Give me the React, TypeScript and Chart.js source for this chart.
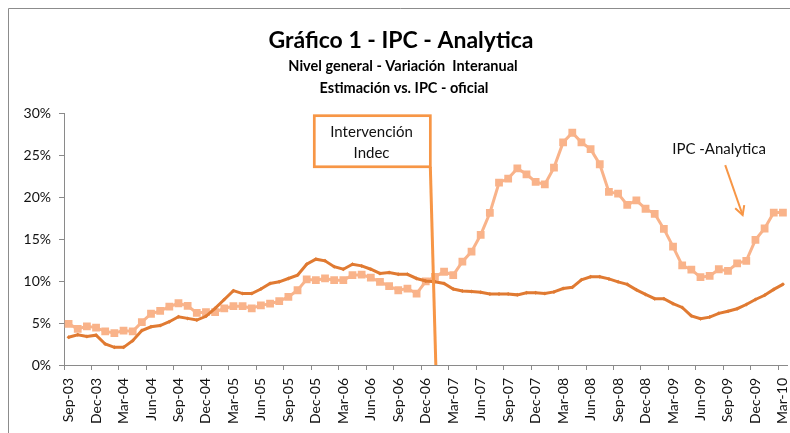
import { useEffect, useRef } from "react";
import { Chart, registerables } from "chart.js";

Chart.register(...registerables);

const FONT = 'Lato, "Liberation Sans", sans-serif';
const ORANGE = "#F79646";
const DARK = "#E07A32";
const LIGHT = "#F9B38A";
const AXIS = "#8a8a8a";

const months = [
  "Sep-03", "Oct-03", "Nov-03", "Dec-03",
  "Jan-04", "Feb-04", "Mar-04", "Apr-04", "May-04", "Jun-04", "Jul-04", "Aug-04", "Sep-04", "Oct-04", "Nov-04", "Dec-04",
  "Jan-05", "Feb-05", "Mar-05", "Apr-05", "May-05", "Jun-05", "Jul-05", "Aug-05", "Sep-05", "Oct-05", "Nov-05", "Dec-05",
  "Jan-06", "Feb-06", "Mar-06", "Apr-06", "May-06", "Jun-06", "Jul-06", "Aug-06", "Sep-06", "Oct-06", "Nov-06", "Dec-06",
  "Jan-07", "Feb-07", "Mar-07", "Apr-07", "May-07", "Jun-07", "Jul-07", "Aug-07", "Sep-07", "Oct-07", "Nov-07", "Dec-07",
  "Jan-08", "Feb-08", "Mar-08", "Apr-08", "May-08", "Jun-08", "Jul-08", "Aug-08", "Sep-08", "Oct-08", "Nov-08", "Dec-08",
  "Jan-09", "Feb-09", "Mar-09", "Apr-09", "May-09", "Jun-09", "Jul-09", "Aug-09", "Sep-09", "Oct-09", "Nov-09", "Dec-09",
  "Jan-10", "Feb-10", "Mar-10",
];

// IPC oficial (dark orange line), % interanual
const ipcOficial = [
  3.3, 3.6, 3.4, 3.55,
  2.5, 2.1, 2.1, 2.9, 4.1, 4.55, 4.7, 5.15, 5.75, 5.55, 5.35, 5.8,
  6.75, 7.8, 8.85, 8.5, 8.5, 9.05, 9.7, 9.9, 10.3, 10.7, 12.0, 12.6,
  12.4, 11.7, 11.4, 12.0, 11.8, 11.4, 10.9, 11.0, 10.8, 10.8, 10.3, 10.0,
  9.9, 9.7, 9.05, 8.8, 8.75, 8.65, 8.45, 8.45, 8.45, 8.35, 8.6, 8.6,
  8.5, 8.7, 9.1, 9.25, 10.15, 10.5, 10.5, 10.25, 9.9, 9.6, 8.95, 8.4,
  7.9, 7.9, 7.3, 6.85, 5.85, 5.5, 5.7, 6.15, 6.4, 6.7, 7.2, 7.8,
  8.3, 9.0, 9.6,
];

// IPC Analytica (light salmon line with squares), % interanual
const ipcAnalytica = [
  4.9, 4.3, 4.6, 4.45,
  4.0, 3.8, 4.1, 4.0, 5.1, 6.1, 6.45, 6.95, 7.35, 7.05, 6.2, 6.3,
  6.3, 6.75, 7.0, 7.0, 6.75, 7.1, 7.3, 7.6, 8.1, 8.9, 10.2, 10.1,
  10.3, 10.1, 10.1, 10.7, 10.75, 10.4, 9.9, 9.4, 8.9, 9.1, 8.5, 9.95,
  10.5, 11.1, 10.7, 12.3, 13.5, 15.5, 18.1, 21.7, 22.2, 23.4, 22.7, 21.8,
  21.5, 23.5, 26.5, 27.65, 26.5, 25.7, 23.9, 20.6, 20.4, 19.05, 19.6, 18.6,
  18.0, 16.2, 14.1, 11.85, 11.35, 10.45, 10.6, 11.4, 11.2, 12.1, 12.4, 14.9,
  16.25, 18.15, 18.15,
];

const yTicks = [0, 5, 10, 15, 20, 25, 30];

const titleText = "Gráfico 1 - IPC - Analytica";
const subtitleLines = ["Nivel general - Variación  Interanual", "Estimación vs. IPC - oficial"];
const boxLines = ["Intervención", "Indec"];
const seriesLabel = "IPC -Analytica";

const CANVAS_W = 793;
const CANVAS_H = 433;

export default function App() {
  const ref = useRef<HTMLCanvasElement>(null);

  useEffect(() => {
    const canvas = ref.current!;

    const overlay = {
      id: "overlay",
      beforeDraw(chart: any) {
        const ctx = chart.ctx;
        ctx.save();
        ctx.fillStyle = "#ffffff";
        ctx.fillRect(0, 0, chart.width, chart.height);
        // outer chart border (left and top visible)
        ctx.strokeStyle = "#8c8c8c";
        ctx.lineWidth = 1;
        ctx.beginPath();
        ctx.moveTo(8.5, chart.height);
        ctx.lineTo(8.5, 8.5);
        ctx.lineTo(chart.width, 8.5);
        ctx.stroke();
        // titles
        ctx.fillStyle = "#000";
        ctx.textAlign = "center";
        ctx.textBaseline = "alphabetic";
        ctx.font = `bold 23px ${FONT}`;
        ctx.fillText(titleText, 401, 48);
        ctx.font = `bold 14.5px ${FONT}`;
        ctx.fillText(subtitleLines[0], 403, 71);
        ctx.fillText(subtitleLines[1], 404, 93);
        ctx.restore();
      },
      afterDatasetsDraw(chart: any) {
        const ctx = chart.ctx;
        const xs = chart.scales.x;
        const ys = chart.scales.y;
        const px = (i: number) => xs.getPixelForValue(i);
        const py = (v: number) => ys.getPixelForValue(v);
        ctx.save();
        // vertical marker line (Intervención Indec)
        ctx.strokeStyle = ORANGE;
        ctx.lineWidth = 3;
        ctx.beginPath();
        ctx.moveTo(px(39.5), py(23.6));
        ctx.lineTo(px(40.1), py(0));
        ctx.stroke();
        // box
        const bx0 = px(26.83), bx1 = px(39.5);
        const by0 = py(29.68), by1 = py(23.6);
        ctx.fillStyle = "#fff";
        ctx.fillRect(bx0, by0, bx1 - bx0, by1 - by0);
        ctx.lineWidth = 2.7;
        ctx.strokeRect(bx0, by0, bx1 - bx0, by1 - by0);
        ctx.fillStyle = "#111";
        ctx.textAlign = "center";
        ctx.textBaseline = "alphabetic";
        ctx.font = `15px ${FONT}`;
        ctx.fillText(boxLines[0], px(33.08), py(27.1));
        ctx.fillText(boxLines[1], px(33.08), py(24.6));
        // series label + arrow
        ctx.fillText(seriesLabel, px(71.03), py(25.1));
        ctx.strokeStyle = ORANGE;
        ctx.lineWidth = 2;
        const ax0 = px(71.7), ay0 = py(23.8);
        const ax1 = px(73.6), ay1 = py(17.86);
        ctx.beginPath();
        ctx.moveTo(ax0, ay0);
        ctx.lineTo(ax1, ay1);
        ctx.stroke();
        const ang = Math.atan2(ay1 - ay0, ax1 - ax0);
        const L = 10;
        ctx.beginPath();
        ctx.moveTo(ax1 - L * Math.cos(ang - 0.5), ay1 - L * Math.sin(ang - 0.5));
        ctx.lineTo(ax1, ay1);
        ctx.lineTo(ax1 - L * Math.cos(ang + 0.5), ay1 - L * Math.sin(ang + 0.5));
        ctx.stroke();
        ctx.restore();
      },
    };

    const chart = new Chart(canvas, {
      type: "line",
      data: {
        labels: months,
        datasets: [
          {
            label: "IPC oficial",
            data: ipcOficial,
            borderColor: DARK,
            backgroundColor: DARK,
            borderWidth: 3,
            pointStyle: "rectRot",
            pointRadius: 2,
            pointBorderWidth: 0,
            pointBackgroundColor: DARK,
            tension: 0,
          },
          {
            label: "IPC Analytica",
            data: ipcAnalytica,
            borderColor: LIGHT,
            backgroundColor: LIGHT,
            borderWidth: 3,
            pointStyle: "rect",
            pointRadius: 5.5,
            pointBorderWidth: 0,
            pointBackgroundColor: LIGHT,
            tension: 0,
          },
        ],
      },
      options: {
        animation: false,
        responsive: false,
        devicePixelRatio: 1,
        layout: { padding: { left: 9, top: 113, right: 0, bottom: 0 } },
        plugins: {
          legend: { display: false },
          tooltip: { enabled: false },
          title: { display: false },
        },
        scales: {
          x: {
            type: "category",
            offset: true,
            grid: {
              offset: true,
              drawOnChartArea: false,
              drawTicks: true,
              tickLength: 5,
              tickColor: (c: any) => (c.index % 3 === 0 ? AXIS : "rgba(0,0,0,0)"),
            },
            border: { color: AXIS, width: 1 },
            ticks: {
              autoSkip: false,
              maxRotation: 90,
              minRotation: 90,
              padding: 8,
              color: "#111",
              font: { family: FONT, size: 14 },
              callback: (_v: any, i: number) => (i % 3 === 0 ? months[i] : ""),
            },
            afterFit: (s: any) => {
              s.height = 68;
              s.paddingLeft = 0;
              s.paddingRight = 0;
            },
          },
          y: {
            min: yTicks[0],
            max: yTicks[yTicks.length - 1],
            grid: {
              drawOnChartArea: false,
              drawTicks: true,
              tickLength: 5,
              tickColor: AXIS,
            },
            border: { color: AXIS, width: 1 },
            ticks: {
              stepSize: 5,
              padding: 8,
              color: "#111",
              font: { family: FONT, size: 14 },
              callback: (v: any) => `${v}%`,
            },
            afterFit: (s: any) => {
              s.width = 55;
              s.paddingTop = 0;
              s.paddingBottom = 0;
            },
          },
        },
      },
      plugins: [overlay],
    } as any);

    return () => chart.destroy();
  }, []);

  return (
    <div style={{ position: "fixed", left: 0, top: 0, width: 790, height: 433, overflow: "hidden", background: "#fff" }}>
      <canvas ref={ref} width={CANVAS_W} height={CANVAS_H} style={{ display: "block", width: CANVAS_W, height: CANVAS_H }} />
    </div>
  );
}
